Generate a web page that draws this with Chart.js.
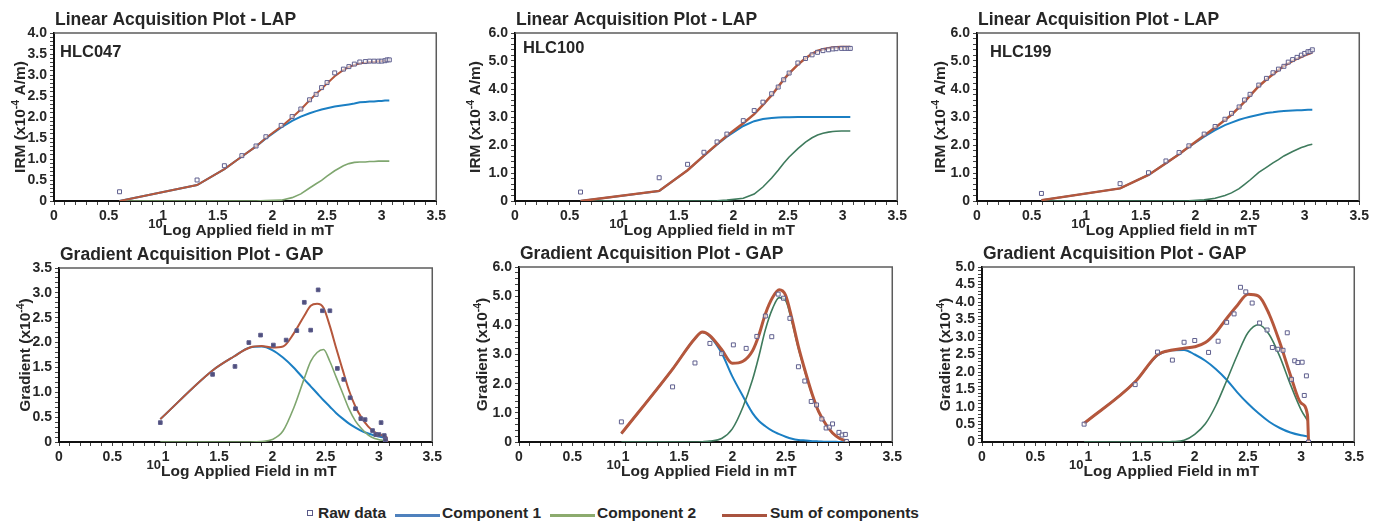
<!DOCTYPE html>
<html>
<head>
<meta charset="utf-8">
<title>IRM component analysis - LAP / GAP</title>
<script src="https://cdn.jsdelivr.net/npm/chart.js@4.4.1/dist/chart.umd.min.js"></script>
<style>
  html, body { margin: 0; padding: 0; background: #fff; overflow: hidden; }
  body { width: 1373px; height: 522px; position: relative; font-family: 'Liberation Sans', Arial, sans-serif; }
  .panel { position: absolute; }
  .lg { position: absolute; top: 505px; font-weight: bold; font-size: 15.5px; line-height: 16px; color: #262626; white-space: nowrap; }
  .sw { position: absolute; top: 514px; width: 45px; height: 3px; }
  .bx { position: absolute; top: 510px; width: 4px; height: 4px; border: 1px solid #5a5a88; }
</style>
</head>
<body>

<div class="bx" style="left:307px"></div>
<div class="lg" style="left:318px">Raw data</div>
<div class="sw" style="left:395px;background:#4f81bd"></div>
<div class="lg" style="left:442px">Component 1</div>
<div class="sw" style="left:550px;background:#8cab6e"></div>
<div class="lg" style="left:597px">Component 2</div>
<div class="sw" style="left:722px;background:#a9533f"></div>
<div class="lg" style="left:770px">Sum of components</div>

<script>
const FONT = "'Liberation Sans', Arial, sans-serif";
const BLUE = '#1b7fc3';
const RED = '#b5573c';
const GREEN_LIGHT = '#7fa66f';
const GREEN_DARK = '#3f7b5d';
const MARK = '#5f5f8e';

// HLC047 - linear acquisition (IRM x1e-4 A/m vs log10 field)
const lap047X    = [0.60, 1.31, 1.56, 1.72, 1.85, 1.94, 2.08, 2.18, 2.26, 2.34, 2.40, 2.45, 2.50, 2.57, 2.65, 2.70, 2.75, 2.80, 2.85, 2.89, 2.93, 2.97, 3.00, 3.03, 3.05, 3.07];
const lap047Raw  = [0.22, 0.50, 0.84, 1.08, 1.31, 1.53, 1.80, 2.01, 2.19, 2.41, 2.54, 2.70, 2.82, 3.05, 3.14, 3.20, 3.26, 3.31, 3.32, 3.33, 3.33, 3.33, 3.33, 3.34, 3.36, 3.36];
const lap047C1   = [0, 0.38, 0.76, 1.06, 1.30, 1.49, 1.75, 1.91, 2.01, 2.09, 2.14, 2.18, 2.21, 2.25, 2.28, 2.30, 2.32, 2.35, 2.36, 2.37, 2.37, 2.38, 2.38, 2.39, 2.39, 2.39];
const lap047C2   = [0, 0, 0, 0, 0, 0.01, 0.02, 0.08, 0.17, 0.31, 0.41, 0.49, 0.59, 0.72, 0.84, 0.89, 0.92, 0.93, 0.93, 0.94, 0.94, 0.95, 0.95, 0.95, 0.95, 0.95];
const lap047Sum  = [0, 0.38, 0.76, 1.06, 1.30, 1.50, 1.77, 1.99, 2.18, 2.40, 2.55, 2.67, 2.80, 2.97, 3.12, 3.19, 3.24, 3.28, 3.29, 3.31, 3.31, 3.33, 3.33, 3.34, 3.34, 3.34];

// HLC100 - linear acquisition
const lap100X    = [0.60, 1.32, 1.58, 1.73, 1.85, 1.94, 2.09, 2.19, 2.27, 2.35, 2.41, 2.46, 2.51, 2.59, 2.66, 2.72, 2.77, 2.82, 2.87, 2.91, 2.94, 2.99, 3.02, 3.05, 3.07];
const lap100Raw  = [0.32, 0.83, 1.31, 1.74, 2.11, 2.39, 2.87, 3.23, 3.53, 3.83, 4.07, 4.33, 4.57, 4.93, 5.09, 5.22, 5.31, 5.37, 5.40, 5.43, 5.44, 5.45, 5.45, 5.45, 5.45];
const lap100C1   = [0, 0.36, 1.10, 1.62, 2.02, 2.30, 2.68, 2.85, 2.93, 2.96, 2.98, 2.99, 2.99, 3.00, 3.00, 3.00, 3.00, 3.00, 3.00, 3.00, 3.00, 3.00, 3.00, 3.00, 3.00];
const lap100C2   = [0, 0, 0, 0, 0.01, 0.03, 0.10, 0.25, 0.50, 0.82, 1.10, 1.35, 1.57, 1.87, 2.10, 2.26, 2.36, 2.42, 2.46, 2.48, 2.49, 2.50, 2.50, 2.50, 2.50];
const lap100Sum  = [0, 0.36, 1.10, 1.62, 2.03, 2.33, 2.78, 3.10, 3.43, 3.78, 4.08, 4.34, 4.56, 4.87, 5.10, 5.26, 5.36, 5.42, 5.46, 5.48, 5.49, 5.50, 5.50, 5.50, 5.50];

// HLC199 - linear acquisition
const lap199X    = [0.59, 1.31, 1.57, 1.73, 1.85, 1.94, 2.08, 2.18, 2.27, 2.33, 2.40, 2.45, 2.50, 2.58, 2.65, 2.71, 2.76, 2.81, 2.85, 2.89, 2.93, 2.97, 3.00, 3.03, 3.05, 3.07];
const lap199Raw  = [0.27, 0.62, 1.01, 1.43, 1.73, 1.97, 2.39, 2.66, 2.92, 3.13, 3.36, 3.61, 3.81, 4.14, 4.38, 4.58, 4.71, 4.81, 4.96, 5.05, 5.13, 5.21, 5.27, 5.33, 5.34, 5.40];
const lap199C1   = [0.03, 0.45, 0.93, 1.35, 1.67, 1.93, 2.30, 2.53, 2.71, 2.80, 2.90, 2.96, 3.01, 3.08, 3.14, 3.17, 3.20, 3.21, 3.22, 3.23, 3.24, 3.24, 3.25, 3.26, 3.26, 3.26];
const lap199C2   = [0, 0, 0, 0, 0, 0.01, 0.04, 0.10, 0.20, 0.29, 0.44, 0.59, 0.75, 1.02, 1.20, 1.36, 1.48, 1.61, 1.69, 1.77, 1.84, 1.91, 1.95, 1.99, 2.01, 2.03];
const lap199Sum  = [0.03, 0.45, 0.93, 1.35, 1.67, 1.94, 2.34, 2.62, 2.89, 3.08, 3.34, 3.55, 3.76, 4.10, 4.34, 4.53, 4.68, 4.82, 4.91, 5.00, 5.08, 5.15, 5.20, 5.25, 5.27, 5.31];

// HLC047 - gradient acquisition (x1e-4)
const gap047RawX = [0.95, 1.44, 1.65, 1.78, 1.89, 2.01, 2.13, 2.23, 2.30, 2.36, 2.43, 2.47, 2.54, 2.61, 2.67, 2.73, 2.78, 2.83, 2.87, 2.94, 2.97, 3.00, 3.02, 3.05, 3.06, 3.06];
const gap047Raw  = [0.39, 1.36, 1.52, 2.00, 2.15, 1.95, 2.05, 2.24, 2.81, 2.25, 3.06, 2.64, 2.64, 1.48, 1.26, 0.89, 0.67, 0.47, 0.45, 0.23, 0.15, 0.15, 0.39, 0.13, 0.06, 0.03];
const gap047FitX = [0.95, 1.44, 1.64, 1.79, 1.90, 2.00, 2.10, 2.20, 2.30, 2.36, 2.42, 2.48, 2.54, 2.60, 2.66, 2.72, 2.78, 2.84, 2.90, 2.96, 3.02, 3.07];
const gap047C1   = [0.46, 1.44, 1.72, 1.90, 1.92, 1.85, 1.70, 1.50, 1.26, 1.12, 0.98, 0.84, 0.71, 0.58, 0.47, 0.37, 0.29, 0.22, 0.17, 0.13, 0.10, 0.08];
const gap047C2   = [0, 0, 0, 0, 0.01, 0.05, 0.22, 0.68, 1.28, 1.62, 1.80, 1.86, 1.62, 1.30, 0.98, 0.66, 0.42, 0.26, 0.14, 0.07, 0.04, 0.02];
const gap047SumX = [0.95, 1.44, 1.64, 1.79, 1.90, 2.00, 2.10, 2.20, 2.30, 2.36, 2.42, 2.48, 2.54, 2.60, 2.66, 2.72, 2.78, 2.84, 2.90, 2.96, 3.02, 3.07, 3.08];
const gap047Sum  = [0.46, 1.44, 1.72, 1.90, 1.93, 1.90, 1.92, 2.18, 2.54, 2.74, 2.78, 2.70, 2.33, 1.88, 1.45, 1.03, 0.71, 0.48, 0.31, 0.20, 0.14, 0.10, 0];

// HLC100 - gradient acquisition
const gap100RawX = [0.96, 1.44, 1.65, 1.79, 1.90, 2.01, 2.13, 2.23, 2.31, 2.37, 2.43, 2.48, 2.54, 2.62, 2.68, 2.74, 2.79, 2.84, 2.88, 2.91, 2.94, 3.00, 3.03, 3.06, 3.07];
const gap100Raw  = [0.69, 1.89, 2.71, 3.38, 3.03, 3.33, 3.21, 3.62, 4.32, 3.61, 5.07, 4.93, 4.24, 2.58, 2.09, 1.39, 1.27, 0.79, 0.48, 0.51, 0.62, 0.33, 0.24, 0.26, 0.02];
const gap100FitX = [0.96, 1.44, 1.65, 1.72, 1.79, 1.90, 2.00, 2.10, 2.19, 2.25, 2.31, 2.38, 2.44, 2.50, 2.56, 2.62, 2.69, 2.75, 2.81, 2.88, 2.94, 3.00, 3.06];
const gap100C1   = [0.29, 2.50, 3.55, 3.76, 3.62, 3.05, 2.25, 1.57, 0.99, 0.72, 0.54, 0.37, 0.27, 0.18, 0.11, 0.07, 0.05, 0.03, 0.02, 0.01, 0.01, 0, 0];
const gap100C2   = [0, 0, 0, 0.01, 0.03, 0.12, 0.45, 1.20, 2.14, 2.95, 3.85, 4.60, 4.95, 4.85, 4.10, 3.20, 2.30, 1.60, 1.02, 0.58, 0.30, 0.14, 0.04];
const gap100Sum  = [0.29, 2.50, 3.55, 3.77, 3.65, 3.17, 2.70, 2.77, 3.13, 3.67, 4.39, 4.97, 5.22, 5.03, 4.21, 3.27, 2.35, 1.63, 1.04, 0.59, 0.31, 0.14, 0.04];

// HLC199 - gradient acquisition
const gap199RawX = [0.96, 1.44, 1.65, 1.79, 1.90, 2.00, 2.13, 2.22, 2.30, 2.37, 2.43, 2.48, 2.54, 2.61, 2.68, 2.73, 2.78, 2.83, 2.87, 2.91, 2.94, 2.97, 3.01, 3.03, 3.05, 3.07];
const gap199Raw  = [0.51, 1.64, 2.57, 2.34, 2.85, 2.90, 2.56, 2.88, 3.42, 3.66, 4.42, 4.29, 3.97, 3.40, 3.20, 2.70, 2.65, 2.62, 3.12, 1.79, 2.32, 2.27, 2.28, 1.33, 1.89, 0];
const gap199FitX = [0.96, 1.44, 1.65, 1.79, 1.90, 2.00, 2.10, 2.20, 2.30, 2.40, 2.50, 2.60, 2.70, 2.80, 2.90, 3.00, 3.06];
const gap199C1   = [0.53, 1.72, 2.47, 2.62, 2.63, 2.50, 2.32, 2.08, 1.78, 1.42, 1.10, 0.82, 0.58, 0.40, 0.27, 0.19, 0.16];
const gap199C2   = [0, 0, 0, 0.01, 0.05, 0.22, 0.52, 1.05, 1.75, 2.48, 3.12, 3.35, 3.07, 2.44, 1.64, 0.92, 0.62];
const gap199SumX = [0.96, 1.44, 1.65, 1.79, 1.90, 2.00, 2.10, 2.20, 2.30, 2.40, 2.50, 2.60, 2.70, 2.80, 2.90, 3.00, 3.06, 3.07];
const gap199Sum  = [0.53, 1.72, 2.49, 2.63, 2.68, 2.72, 2.84, 3.13, 3.53, 3.90, 4.22, 4.17, 3.65, 2.84, 1.91, 1.11, 0.78, 0];

const LAP_TITLE = 'Linear Acquisition Plot - LAP';
const GAP_TITLE = 'Gradient Acquisition Plot - GAP';
const IRM_LABEL = ['IRM (x10', '-4', ' A/m)'];
const GRAD_LABEL = ['Gradient (x10', '-4', ')'];

// plot rectangles [left, top, right, bottom] in page pixels
const panels = [
  { rect: [54, 33, 437, 201], title: LAP_TITLE, sample: 'HLC047', sampleAt: [6, 24], yGap: 29,
    yMax: 4, yMajor: 0.5, yMinor: 0.1, yTitle: IRM_LABEL, xTitle: 'Log Applied field in mT',
    rawX: lap047X, raw: lap047Raw, fitX: lap047X, c1: lap047C1, c2: lap047C2, sumX: lap047X, sum: lap047Sum,
    green: GREEN_LIGHT, sumW: 2, filled: false, smooth: false },
  { rect: [515, 33, 898, 201], title: LAP_TITLE, sample: 'HLC100', sampleAt: [8, 20], yGap: 35,
    yMax: 6, yMajor: 1, yMinor: 0.2, yTitle: IRM_LABEL, xTitle: 'Log Applied field in mT',
    rawX: lap100X, raw: lap100Raw, fitX: lap100X, c1: lap100C1, c2: lap100C2, sumX: lap100X, sum: lap100Sum,
    green: GREEN_DARK, sumW: 2.5, filled: false, smooth: false },
  { rect: [977, 33, 1360, 201], title: LAP_TITLE, sample: 'HLC199', sampleAt: [13, 24], yGap: 32,
    yMax: 6, yMajor: 1, yMinor: 0.2, yTitle: IRM_LABEL, xTitle: 'Log Applied field in mT',
    rawX: lap199X, raw: lap199Raw, fitX: lap199X, c1: lap199C1, c2: lap199C2, sumX: lap199X, sum: lap199Sum,
    green: GREEN_DARK, sumW: 2.5, filled: false, smooth: false },
  { rect: [59, 268, 433, 442], title: GAP_TITLE, yGap: 29,
    yMax: 3.5, yMajor: 0.5, yMinor: 0.1, yTitle: GRAD_LABEL, xTitle: 'Log Applied Field in mT',
    rawX: gap047RawX, raw: gap047Raw, fitX: gap047FitX, c1: gap047C1, c2: gap047C2, sumX: gap047SumX, sum: gap047Sum,
    green: GREEN_LIGHT, sumW: 2, filled: true, smooth: true },
  { rect: [519, 267, 893, 442], title: GAP_TITLE, yGap: 32,
    yMax: 6, yMajor: 1, yMinor: 0.2, yTitle: GRAD_LABEL, xTitle: 'Log Applied Field in mT',
    rawX: gap100RawX, raw: gap100Raw, fitX: gap100FitX, c1: gap100C1, c2: gap100C2, sumX: gap100FitX, sum: gap100Sum,
    green: GREEN_DARK, sumW: 3, filled: false, smooth: true },
  { rect: [982, 267, 1355, 442], title: GAP_TITLE, yGap: 32,
    yMax: 5, yMajor: 0.5, yMinor: 0.1, yTitle: GRAD_LABEL, xTitle: 'Log Applied Field in mT',
    rawX: gap199RawX, raw: gap199Raw, fitX: gap199FitX, c1: gap199C1, c2: gap199C2, sumX: gap199SumX, sum: gap199Sum,
    green: GREEN_DARK, sumW: 3, filled: false, smooth: true }
];

const pts = (xs, ys) => ys.map((y, i) => ({ x: xs[i], y }));
const isMult = (v, m) => Math.abs(v / m - Math.round(v / m)) < 1e-6;

// draws a run of text pieces of different size / baseline shift, centred on cx
function drawRun(ctx, parts, cx, y) {
  let w = 0;
  parts.forEach(([t, s]) => { ctx.font = `bold ${s}px ${FONT}`; w += ctx.measureText(t).width; });
  let x = cx - w / 2;
  ctx.textAlign = 'left';
  parts.forEach(([t, s, dy]) => {
    ctx.font = `bold ${s}px ${FONT}`;
    ctx.fillText(t, x, y + dy);
    x += ctx.measureText(t).width;
  });
}

// frame, headings and axis titles (superscripts need manual drawing)
const panelText = {
  id: 'panelText',
  afterDraw(chart) {
    const p = chart.options.plugins.panelText;
    const { ctx, chartArea: a } = chart;
    ctx.save();
    ctx.strokeStyle = '#5c5c5c';
    ctx.lineWidth = 1.5;
    ctx.beginPath();
    ctx.moveTo(a.left, a.top);
    ctx.lineTo(a.right, a.top);
    ctx.lineTo(a.right, a.bottom);
    ctx.stroke();

    ctx.fillStyle = '#262626';
    ctx.textBaseline = 'alphabetic';
    ctx.textAlign = 'left';
    ctx.font = `bold 17.5px ${FONT}`;
    ctx.fillText(p.title, a.left + 1, a.top - 8);
    if (p.sample) {
      ctx.font = `bold 16.5px ${FONT}`;
      ctx.fillText(p.sample, a.left + p.sampleAt[0], a.top + p.sampleAt[1]);
    }
    drawRun(ctx, [['10', 13, -7], [p.xTitle, 15.5, 0]], (a.left + a.right) / 2 - 4, a.bottom + 34);

    ctx.translate(a.left - p.yGap, (a.top + a.bottom) / 2);
    ctx.rotate(-Math.PI / 2);
    drawRun(ctx, [[p.yTitle[0], 15.5, 0], [p.yTitle[1], 10.5, -6], [p.yTitle[2], 15.5, 0]], 0, 0);
    ctx.restore();
  }
};

const tickFont = { family: FONT, size: 14, weight: 'bold' };
const PAD_L = 50, PAD_T = 33, PAD_R = 12, PAD_B = 40;

panels.forEach(p => {
  const [l, t, r, b] = p.rect;
  const div = document.createElement('div');
  div.className = 'panel';
  div.style.left = (l - PAD_L) + 'px';
  div.style.top = (t - PAD_T) + 'px';
  div.style.width = (r - l + PAD_L + PAD_R) + 'px';
  div.style.height = (b - t + PAD_T + PAD_B) + 'px';
  const cv = document.createElement('canvas');
  div.appendChild(cv);
  document.body.appendChild(div);

  // LAP curves are drawn point to point, GAP curves smoothed
  const line = (xs, ys, color, w) => ({
    data: pts(xs, ys), showLine: true, borderColor: color, borderWidth: w,
    pointRadius: 0, fill: false, tension: 0,
    cubicInterpolationMode: p.smooth ? 'monotone' : 'default'
  });

  new Chart(cv, {
    type: 'scatter',
    data: {
      datasets: [
        { data: pts(p.rawX, p.raw), showLine: false, pointStyle: 'rect', pointRadius: p.filled ? 2.6 : 2.8,
          pointBorderWidth: 1, pointBorderColor: MARK,
          pointBackgroundColor: p.filled ? '#4f4f7c' : 'rgba(255,255,255,0.6)' },
        line(p.sumX, p.sum, RED, p.sumW),
        line(p.fitX, p.c2, p.green, 1.6),
        line(p.fitX, p.c1, BLUE, 2)
      ]
    },
    options: {
      responsive: true,
      maintainAspectRatio: false,
      animation: false,
      events: [],
      layout: { padding: { left: 0, top: PAD_T, right: PAD_R, bottom: 0 } },
      plugins: { legend: { display: false }, tooltip: { enabled: false }, panelText: p },
      scales: {
        x: {
          type: 'linear', min: 0, max: 3.5,
          ticks: {
            stepSize: 0.1, autoSkip: false, maxRotation: 0, padding: 3, font: tickFont, color: '#262626',
            callback: v => isMult(v, 0.5)
              ? (isMult(v, 1) ? String(Math.round(v)) : v.toFixed(1)) : ''
          },
          grid: { drawOnChartArea: false, tickLength: 4, color: '#444', tickWidth: 1 },
          border: { color: '#111', width: 2 },
          afterFit(s) { s.height = PAD_B; }
        },
        y: {
          type: 'linear', min: 0, max: p.yMax,
          ticks: {
            stepSize: p.yMinor, autoSkip: false, padding: 3, font: tickFont, color: '#262626',
            callback: v => isMult(v, p.yMajor) ? (Math.abs(v) < 1e-9 ? '0' : v.toFixed(1)) : ''
          },
          grid: { drawOnChartArea: false, tickLength: 4, color: '#444', tickWidth: 1 },
          border: { color: '#111', width: 2 },
          afterFit(s) { s.width = PAD_L; }
        }
      }
    },
    plugins: [panelText]
  });
});
</script>
</body>
</html>
